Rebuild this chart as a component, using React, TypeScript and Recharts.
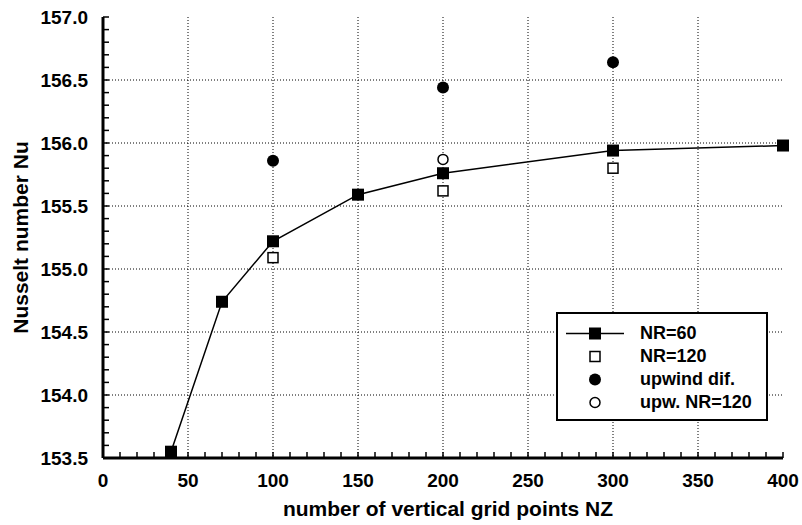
import React from 'react';
import { ComposedChart, Scatter, XAxis, YAxis, CartesianGrid, Legend } from 'recharts';

// NR=60 (filled squares joined by a line)
const nz60 = [40, 70, 100, 150, 200, 300, 400];
const nu60 = [153.55, 154.74, 155.22, 155.59, 155.76, 155.94, 155.98];

// NR=120 (open squares)
const nz120 = [100, 200, 300];
const nu120 = [155.09, 155.62, 155.8];

// upwind differencing (filled circles)
const nzUpw = [100, 200, 300];
const nuUpw = [155.86, 156.44, 156.64];

// upwind NR=120 (open circle)
const nzUpw120 = [200];
const nuUpw120 = [155.87];

const xGrid = [50, 100, 150, 200, 250, 300, 350];
const yGrid = [154.0, 154.5, 155.0, 155.5, 156.0, 156.5];
const xTicks = Array.from({ length: 41 }, (_, i) => i * 10);
const yTicks = Array.from({ length: 36 }, (_, i) => Math.round((153.5 + i * 0.1) * 10) / 10);

const toPoints = (xs: number[], ys: number[]) => xs.map((x, i) => ({ x, y: ys[i] }));

const FONT = '"Liberation Sans", Arial, Helvetica, sans-serif';

const FilledSquare = (p: any) => <rect x={p.cx - 6} y={p.cy - 6} width={12} height={12} fill="#000" />;
const OpenSquare = (p: any) => (
  <rect x={p.cx - 5} y={p.cy - 5} width={10} height={10} fill="#fff" stroke="#000" strokeWidth={1.5} />
);
const FilledCircle = (p: any) => <circle cx={p.cx} cy={p.cy} r={6} fill="#000" />;
const OpenCircle = (p: any) => <circle cx={p.cx} cy={p.cy} r={5} fill="#fff" stroke="#000" strokeWidth={1.5} />;

const XTick = (props: any) => {
  const { x, y, payload } = props;
  const major = payload.value % 50 === 0;
  return (
    <g>
      <line x1={x} x2={x} y1={y} y2={y - 6} stroke="#000" strokeWidth={1.5} />
      {major && (
        <text x={x} y={y + 29} textAnchor="middle" fontFamily={FONT} fontWeight="bold" fontSize={19} fill="#000">
          {payload.value}
        </text>
      )}
    </g>
  );
};

const YTick = (props: any) => {
  const { x, y, payload } = props;
  const v = payload.value;
  const major = Math.abs(v * 2 - Math.round(v * 2)) < 1e-6;
  return (
    <g>
      <line x1={x} x2={x + 6} y1={y} y2={y} stroke="#000" strokeWidth={1.5} />
      {major && (
        <text x={x - 15} y={y + 7} textAnchor="end" fontFamily={FONT} fontWeight="bold" fontSize={19} fill="#000">
          {v.toFixed(1)}
        </text>
      )}
    </g>
  );
};

const legendRows = [
  { label: 'NR=60', icon: 'line' },
  { label: 'NR=120', icon: 'osq' },
  { label: 'upwind dif.', icon: 'fc' },
  { label: 'upw. NR=120', icon: 'oc' },
];

const LegendBox = () => (
  <div
    style={{
      border: '2px solid #000',
      background: '#fff',
      width: 208,
      height: 97,
      paddingTop: 8,
      boxSizing: 'content-box',
      fontFamily: FONT,
      fontWeight: 'bold',
      fontSize: 18,
      color: '#000',
    }}
  >
    {legendRows.map((r) => (
      <div key={r.label} style={{ display: 'flex', alignItems: 'center', height: 23 }}>
        <svg width={82} height={23}>
          {r.icon === 'line' && (
            <>
              <line x1={8} x2={66} y1={11.5} y2={11.5} stroke="#000" strokeWidth={1.5} />
              <rect x={31} y={5.5} width={12} height={12} fill="#000" />
            </>
          )}
          {r.icon === 'osq' && <rect x={32} y={6.5} width={10} height={10} fill="#fff" stroke="#000" strokeWidth={1.5} />}
          {r.icon === 'fc' && <circle cx={37} cy={11.5} r={6} fill="#000" />}
          {r.icon === 'oc' && <circle cx={37} cy={11.5} r={5} fill="#fff" stroke="#000" strokeWidth={1.5} />}
        </svg>
        <span>{r.label}</span>
      </div>
    ))}
  </div>
);

const renderYLabel = (props: any) => {
  const vb = props.viewBox;
  const cy = vb.y + vb.height / 2;
  return (
    <text
      x={28}
      y={cy}
      transform={`rotate(-90, 28, ${cy})`}
      textAnchor="middle"
      fontFamily={FONT}
      fontWeight="bold"
      fontSize={21}
      fill="#000"
    >
      Nusselt number Nu
    </text>
  );
};

const renderXLabel = (props: any) => {
  const vb = props.viewBox;
  const cx = vb.x + vb.width / 2 + 5;
  return (
    <text x={cx} y={516} textAnchor="middle" fontFamily={FONT} fontWeight="bold" fontSize={21} fill="#000">
      number of vertical grid points NZ
    </text>
  );
};

const App: React.FC = () => {
  return (
    <div style={{ position: 'absolute', left: 0, top: 0, background: '#fff' }}>
      <ComposedChart width={802} height={525} margin={{ top: 17, right: 19, bottom: 0, left: 0 }}>
        <CartesianGrid
          stroke="#000"
          strokeWidth={1}
          strokeDasharray="1 2"
          verticalValues={xGrid}
          horizontalValues={yGrid}
        />
        <XAxis
          type="number"
          dataKey="x"
          domain={[0, 400]}
          ticks={xTicks}
          interval={0}
          tickSize={0}
          tickMargin={0}
          tickLine={false}
          tick={XTick}
          axisLine={{ stroke: '#000', strokeWidth: 3 }}
          height={67}
          label={{ content: renderXLabel }}
        />
        <XAxis
          xAxisId="top"
          orientation="top"
          type="number"
          domain={[0, 400]}
          ticks={[0, 400]}
          tick={false}
          tickLine={false}
          height={0}
          axisLine={{ stroke: '#000', strokeWidth: 2.5 }}
        />
        <YAxis
          type="number"
          dataKey="y"
          domain={[153.5, 157]}
          ticks={yTicks}
          interval={0}
          tickSize={0}
          tickMargin={0}
          tickLine={false}
          tick={YTick}
          axisLine={{ stroke: '#000', strokeWidth: 3 }}
          width={103}
          label={{ content: renderYLabel }}
        />
        <YAxis
          yAxisId="right"
          orientation="right"
          type="number"
          domain={[153.5, 157]}
          ticks={[153.5, 157]}
          tick={false}
          tickLine={false}
          width={0}
          axisLine={{ stroke: '#000', strokeWidth: 2.5 }}
        />
        <Scatter
          name="NR=60"
          data={toPoints(nz60, nu60)}
          line={{ stroke: '#000', strokeWidth: 1.5 }}
          lineType="joint"
          shape={FilledSquare}
          isAnimationActive={false}
        />
        <Scatter name="NR=120" data={toPoints(nz120, nu120)} shape={OpenSquare} isAnimationActive={false} />
        <Scatter name="upwind dif." data={toPoints(nzUpw, nuUpw)} shape={FilledCircle} isAnimationActive={false} />
        <Scatter name="upw. NR=120" data={toPoints(nzUpw120, nuUpw120)} shape={OpenCircle} isAnimationActive={false} />
        <Legend
          layout="vertical"
          align="center"
          verticalAlign="middle"
          content={LegendBox}
          wrapperStyle={{ left: 556, top: 312, width: 212, height: 109 }}
        />
      </ComposedChart>
    </div>
  );
};

export default App;
